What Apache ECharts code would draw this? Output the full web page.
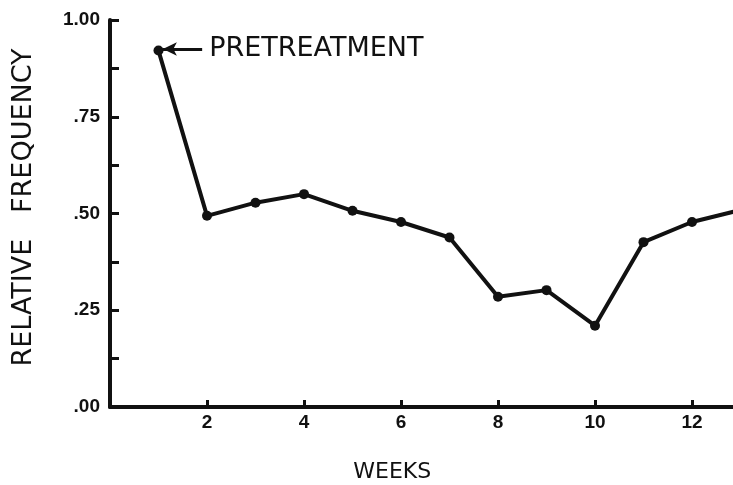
<!DOCTYPE html>
<html>
<head>
<meta charset="utf-8">
<script src="https://cdn.jsdelivr.net/npm/echarts@6/dist/echarts.min.js"></script>
<style>html,body{margin:0;padding:0;background:#fff}#c{width:733px;height:485px}</style>
</head>
<body>
<div id="c"></div>
<script>
const weeks = [1, 2, 3, 4, 5, 6, 7, 8, 9, 10, 11, 12, 13];
const relFreq = [0.921, 0.494, 0.528, 0.550, 0.507, 0.478, 0.438, 0.285, 0.302, 0.210, 0.426, 0.478, 0.509];
const yTickLabels = {0: '.00', 0.25: '.25', 0.5: '.50', 0.75: '.75', 1: '1.00'};
const xTickLabels = [2, 4, 6, 8, 10, 12];
const annotation = {text: 'PRETREATMENT', from: [1.09, 0.925], to: [1.9, 0.925]};

const ink = '#111';
const chart = echarts.init(document.getElementById('c'), null, {renderer: 'canvas'});
chart.setOption({
  animation: false,
  backgroundColor: '#fff',
  grid: {left: 110, top: 20, right: -7.5, bottom: 78, containLabel: false, outerBoundsMode: 'none'},
  xAxis: {
    type: 'value', min: 0, max: 13, interval: 2,
    name: 'WEEKS', nameLocation: 'middle', nameGap: 54,
    nameTextStyle: {fontFamily: 'DejaVu Sans', fontSize: 22, color: ink, padding: [0, 66, 0, 0]},
    axisLine: {show: true, lineStyle: {color: ink, width: 4}},
    axisTick: {show: true, inside: true, length: 7, lineStyle: {color: ink, width: 3}},
    splitLine: {show: false},
    axisLabel: {
      margin: 6, color: ink, fontFamily: 'Liberation Sans', fontWeight: 'bold', fontSize: 19,
      formatter: v => xTickLabels.includes(v) ? String(v) : ''
    }
  },
  yAxis: {
    type: 'value', min: 0, max: 1, interval: 0.125,
    name: 'RELATIVE   FREQUENCY', nameLocation: 'middle', nameGap: 73,
    nameTextStyle: {fontFamily: 'DejaVu Sans', fontSize: 27, color: ink, padding: [0, 0, 0, 12]},
    axisLine: {show: true, lineStyle: {color: ink, width: 4}},
    axisTick: {show: true, inside: true, length: 9, lineStyle: {color: ink, width: 3}},
    splitLine: {show: false},
    axisLabel: {
      margin: 10, color: ink, fontFamily: 'Liberation Sans', fontWeight: 'bold', fontSize: 19,
      padding: [0, 0, 8, 0],
      formatter: v => {
        const k = Math.round(v * 1000) / 1000;
        return yTickLabels[k] !== undefined ? yTickLabels[k] : '';
      }
    }
  },
  series: [{
    type: 'line',
    data: weeks.map((w, i) => [w, relFreq[i]]),
    symbol: 'circle', symbolSize: 10,
    lineStyle: {color: ink, width: 4},
    itemStyle: {color: ink},
    clip: true,
    markLine: {
      silent: true,
      symbol: ['arrow', 'none'], symbolSize: [10, 14],
      lineStyle: {color: ink, width: 3, type: 'solid'},
      label: {
        show: true, position: 'end', formatter: annotation.text, distance: 7,
        fontFamily: 'DejaVu Sans', fontSize: 27, color: ink, padding: [0, 0, 4, 0]
      },
      data: [[{coord: annotation.from}, {coord: annotation.to}]]
    }
  }]
});
</script>
</body>
</html>
